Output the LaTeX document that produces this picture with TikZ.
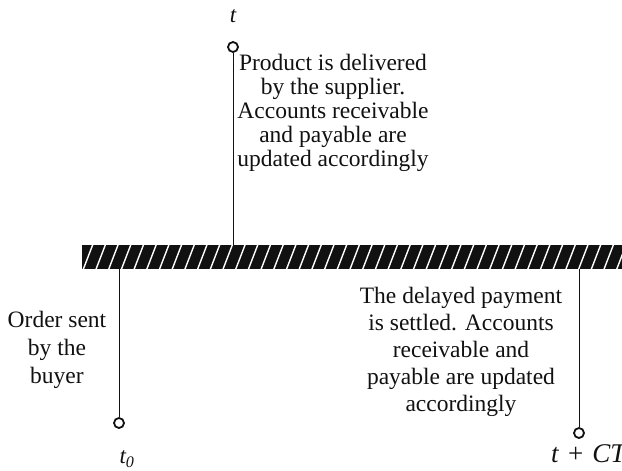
\documentclass[tikz,border=0pt]{standalone}
\usepackage{fontspec}
\setmainfont{Liberation Serif}
\usetikzlibrary{positioning,calc}
\definecolor{ink}{HTML}{111111}

\tikzset{
  tick/.style={circle, draw=ink, line width=1.8pt, minimum size=10pt, inner sep=0pt},
  stem/.style={draw=ink, line width=0.9pt},
  note/.style={align=center, text=ink, inner sep=0pt, font=\fontsize{23.5}{24}\selectfont},
  tlabel/.style={text=ink, inner sep=0pt, font=\fontsize{23}{24}\selectfont\itshape}
}

\begin{document}
\begin{tikzpicture}[x=1pt, y=-1pt]
  \useasboundingbox (0,0) rectangle (622,471);
  \node[fill=ink, minimum width=560pt, minimum height=24pt, inner sep=0pt, anchor=north west] (bar) at (82,245) {};
  \begin{scope}
    \clip (bar.south west) rectangle (bar.north east);
    \foreach \k in {0,...,44}{
      \pgfmathsetmacro{\sx}{82+\k*12.7+1}
      \draw[white, line width=1.4pt] (\sx,270) -- (\sx+10,244);}
  \end{scope}

  \node[tick] (tmid) at (233,47) {};
  \node[tick] (tstart) at (119,423) {};
  \node[tick] (tend) at (579,433) {};
  \draw[stem] (tmid.south) -- (tmid |- bar.north);
  \draw[stem] (tstart.north) -- (tstart |- bar.south);
  \draw[stem] (tend.north) -- (tend |- bar.south);

  \node[tlabel] (lmid) at (233,16) {t};
  \node[tlabel] (lstart) at (127,459) {t\textsubscript{0}};
  \node[tlabel, anchor=west, font=\fontsize{27}{28}\selectfont\itshape] (lend) at (551,454) {t\hspace{9pt}\textup{+}\hspace{9pt}CT};

  \node[note] (ndeliver) at (333,113) {Product is delivered\\by the supplier.\\Accounts receivable\\and payable are\\updated accordingly};
  \node[note, font=\fontsize{23.5}{28}\selectfont] (norder) at (57,350) {Order sent\\by the\\buyer};
  \node[note, font=\fontsize{23.5}{27}\selectfont] (nsettle) at (461,352) {The delayed payment\\is settled. Accounts\\receivable and\\payable are updated\\accordingly};
\end{tikzpicture}
\end{document}
